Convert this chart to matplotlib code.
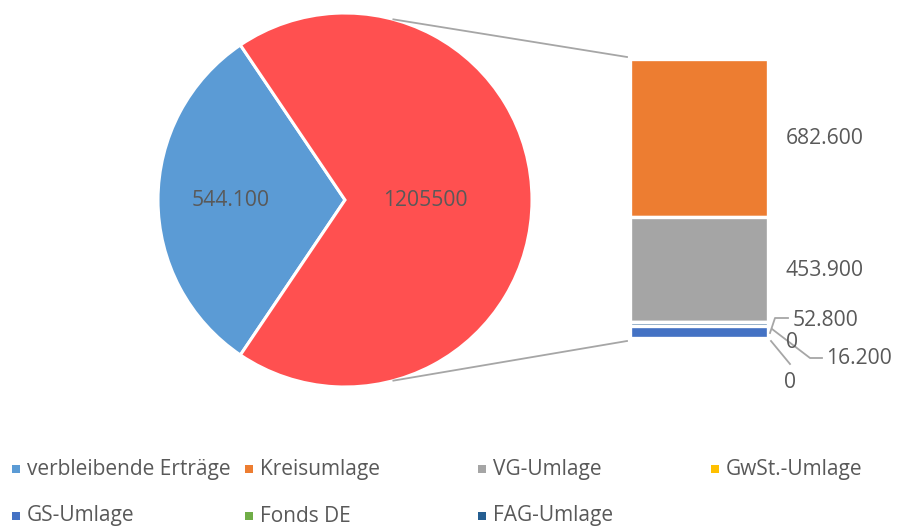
import numpy as np
import matplotlib
matplotlib.use("Agg")
import matplotlib.pyplot as plt
from matplotlib.patches import Rectangle

plt.rcParams["font.family"] = ["Open Sans", "DejaVu Sans"]

# ── data ──────────────────────────────────────────────────────────────────────
PIE_LABELS = ["verbleibende Erträge", "Andere"]
PIE_VALUES = [544100, 1205500]
PIE_TEXT   = ["544.100", "1205500"]
PIE_COLORS = ["#5B9BD5", "#FF5050"]

BAR_LABELS = ["Kreisumlage", "VG-Umlage", "GwSt.-Umlage", "GS-Umlage", "Fonds DE", "FAG-Umlage"]
BAR_VALUES = [682600, 453900, 0, 52800, 0, 16200]
BAR_COLORS = ["#ED7D31", "#A5A5A5", "#FFC000", "#4472C4", "#70AD47", "#255E91"]
# stacking order in the secondary bar, top to bottom
STACK_ORDER = [0, 1, 2, 5, 4, 3]

LEGEND_LABELS = ["verbleibende Erträge"] + BAR_LABELS
LEGEND_COLORS = [PIE_COLORS[0]] + BAR_COLORS

TXT = "#595959"
LINE = "#A6A6A6"
W, H = 900, 529
FS = 15.2

def de_fmt(v):
    return f"{v:,}".replace(",", ".")

fig = plt.figure(figsize=(W / 100, H / 100), dpi=100)
ax = fig.add_axes([0, 0, 1, 1])

# ── pie ───────────────────────────────────────────────────────────────────────
cx, cy, r = 345, H - 200, 187
span0 = 360 * PIE_VALUES[0] / sum(PIE_VALUES)
wedges, _ = ax.pie(PIE_VALUES, colors=PIE_COLORS, center=(cx, cy), radius=r,
                   startangle=180 - span0 / 2, counterclock=True,
                   wedgeprops=dict(edgecolor="white", linewidth=2.2))
ax.text(231, cy, PIE_TEXT[0], ha="center", va="center", fontsize=FS, color=TXT)
ax.text(425, cy, PIE_TEXT[1], ha="center", va="center", fontsize=FS, color=TXT)

# ── stacked bar (secondary) ───────────────────────────────────────────────────
bx0, bx1, by_top, by_bot = 630, 768, H - 59, H - 338
axb = fig.add_axes([bx0 / W, by_bot / H, (bx1 - bx0) / W, (by_top - by_bot) / H])
total = sum(BAR_VALUES)
top = total
for k in STACK_ORDER:
    val = BAR_VALUES[k]
    axb.bar(0, val, bottom=top - val, width=1, color=BAR_COLORS[k],
            edgecolor="white", linewidth=2.4)
    top -= val
axb.set_xlim(-0.5, 0.5)
axb.set_ylim(0, total)
axb.axis("off")

# connector lines
ang = np.deg2rad(75)
ax.plot([cx + r * np.cos(ang), bx0 - 3], [cy + r * np.sin(ang), by_top + 2], color=LINE, lw=1.3)
ax.plot([cx + r * np.cos(ang), bx0 - 3], [cy - r * np.sin(ang), by_bot - 3], color=LINE, lw=1.3)

# bar labels
ax.text(786, H - 138, de_fmt(BAR_VALUES[0]), ha="left", va="center", fontsize=FS, color=TXT)
ax.text(786, H - 270, de_fmt(BAR_VALUES[1]), ha="left", va="center", fontsize=FS, color=TXT)
# small values with leader lines
ax.plot([770, 775, 788], [H - 333, H - 318, H - 318], color=LINE, lw=1.3)
ax.text(793, H - 320, de_fmt(BAR_VALUES[3]), ha="left", va="center", fontsize=FS, color=TXT)
ax.text(792, H - 342, de_fmt(BAR_VALUES[2]), ha="center", va="center", fontsize=FS, color=TXT)
ax.plot([772, 810, 822], [H - 329, H - 358, H - 358], color=LINE, lw=1.3)
ax.text(826, H - 358, de_fmt(BAR_VALUES[5]), ha="left", va="center", fontsize=FS, color=TXT)
ax.plot([771, 790], [H - 341, H - 364], color=LINE, lw=1.3)
ax.text(790, H - 383, de_fmt(BAR_VALUES[4]), ha="center", va="center", fontsize=FS, color=TXT)

# ── legend ────────────────────────────────────────────────────────────────────
col_x = [12, 245, 478, 711]
row_y = [H - 469, H - 516]
for i, (lab, col) in enumerate(zip(LEGEND_LABELS, LEGEND_COLORS)):
    x = col_x[i % 4]
    y = row_y[i // 4]
    ax.add_patch(Rectangle((x, y - 4), 8, 8, facecolor=col, edgecolor="none"))
    ax.text(x + 15, y, lab, ha="left", va="center", fontsize=15, color=TXT)

ax.set_xlim(0, W)
ax.set_ylim(0, H)
ax.set_aspect("auto")
ax.axis("off")

fig.savefig("out.png", dpi=100, facecolor="white")
